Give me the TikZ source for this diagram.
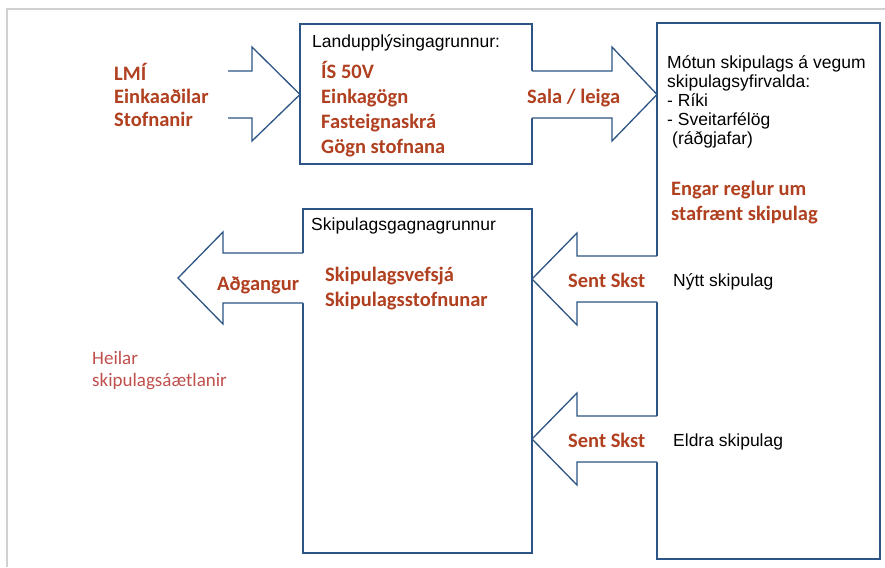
\documentclass[tikz,border=0pt]{standalone}
\usepackage{fontspec}
\newfontfamily\calfont{Carlito}
\newfontfamily\arialfont{Liberation Sans}
\definecolor{boxblue}{HTML}{2C5585}
\definecolor{redtxt}{HTML}{B0401F}
\definecolor{lightred}{HTML}{C0504D}
\definecolor{framegray}{HTML}{D0D0D0}
\begin{document}
\begin{tikzpicture}[x=1pt,y=-1pt,
 boxsty/.style={draw=boxblue, line width=1.5pt, rectangle, inner sep=0pt, outer sep=0pt, anchor=north west},
 barrow/.style={draw=boxblue, line width=1.3pt, line join=miter},
 bfill/.style={fill=white},
 redlbl/.style={text=redtxt, font=\calfont\bfseries\fontsize{20.5}{24.5}\selectfont, align=left, anchor=base west, inner sep=0pt},
 lredlbl/.style={text=lightred, font=\calfont\fontsize{19}{22}\selectfont, align=left, anchor=base west, inner sep=0pt},
 blklbl/.style={text=black, font=\arialfont\fontsize{17.5}{19}\selectfont, align=left, anchor=base west, inner sep=0pt},
]
\useasboundingbox (0,0) rectangle (885,567);
\fill[white] (0,0) rectangle (885,567);
% frame
\draw[framegray, line width=1.2pt] (7,567) -- (7,9) -- (885,9);

% boxes
\node[boxsty, minimum width=232pt, minimum height=140pt] (land) at (300,24) {};
\node[boxsty, minimum width=229pt, minimum height=344pt] (skip) at (303,209) {};
\node[boxsty, minimum width=223pt, minimum height=536pt] (motun) at (657,23) {};

% arrow: sources -> land
\coordinate (a1) at (300,94.5);
\draw[barrow] (228,71) -- (252,71) -- (252,47) -- (a1) -- (252,141) -- (252,118) -- (228,118);

% arrow: land -> motun (Sala / leiga)
\coordinate (a2) at (657,94.5);
\fill[bfill] (529,71) -- (612,71) -- (612,47) -- (a2) -- (612,141) -- (612,118) -- (529,118) -- cycle;
\draw[barrow] (532,71) -- (612,71) -- (612,47) -- (a2) -- (612,141) -- (612,118) -- (532,118);

% arrow: skip -> left (Adgangur)
\coordinate (a3) at (178,278);
\fill[bfill] (306,253) -- (223,253) -- (223,232) -- (a3) -- (223,324) -- (223,303) -- (306,303) -- cycle;
\draw[barrow] (303,253) -- (223,253) -- (223,232) -- (a3) -- (223,324) -- (223,303) -- (303,303);

% arrow: motun -> skip (Nytt)
\coordinate (a4) at (532,279);
\fill[bfill] (660,256) -- (577,256) -- (577,233) -- (a4) -- (577,325) -- (577,302) -- (660,302) -- cycle;
\draw[barrow] (657,256) -- (577,256) -- (577,233) -- (a4) -- (577,325) -- (577,302) -- (657,302);

% arrow: motun -> skip (Eldra)
\coordinate (a5) at (532,439);
\fill[bfill] (660,416) -- (577,416) -- (577,393) -- (a5) -- (577,485) -- (577,462) -- (660,462) -- cycle;
\draw[barrow] (657,416) -- (577,416) -- (577,393) -- (a5) -- (577,485) -- (577,462) -- (657,462);

% texts (base anchor = baseline of last line)
\node[redlbl, font=\calfont\bfseries\fontsize{20.5}{23.5}\selectfont] (src) at (114,127) {LMÍ\\Einkaaðilar\\Stofnanir};
\node[blklbl] (landt) at (312,48) {Landupplýsingagrunnur:};
\node[redlbl, font=\calfont\bfseries\fontsize{20.5}{24.7}\selectfont] (landi) at (321,153) {ÍS 50V\\Einkagögn\\Fasteignaskrá\\Gögn stofnana};
\node[redlbl] (sala) at (527,103) {Sala / leiga};
\node[blklbl] (motunt) at (667,144) {Mótun skipulags á vegum\\skipulagsyfirvalda:\\- Ríki\\- Sveitarfélög\\\hspace*{5pt}(ráðgjafar)};
\node[redlbl, font=\calfont\bfseries\fontsize{20.5}{25}\selectfont] (engar) at (671,220) {Engar reglur um\\stafrænt skipulag};
\node[blklbl] (skipt) at (311,230) {Skipulagsgagnagrunnur};
\node[redlbl] (skipi) at (325,306) {Skipulagsvefsjá\\Skipulagsstofnunar};
\node[redlbl] (adg) at (217,290) {Aðgangur};
\node[redlbl] (sent1) at (568,287) {Sent Skst};
\node[blklbl] (nytt) at (673,286) {Nýtt skipulag};
\node[redlbl] (sent2) at (568,447) {Sent Skst};
\node[blklbl] (eldra) at (673,446) {Eldra skipulag};
\node[lredlbl] (heilar) at (92,386) {Heilar\\skipulagsáætlanir};
\end{tikzpicture}
\end{document}
